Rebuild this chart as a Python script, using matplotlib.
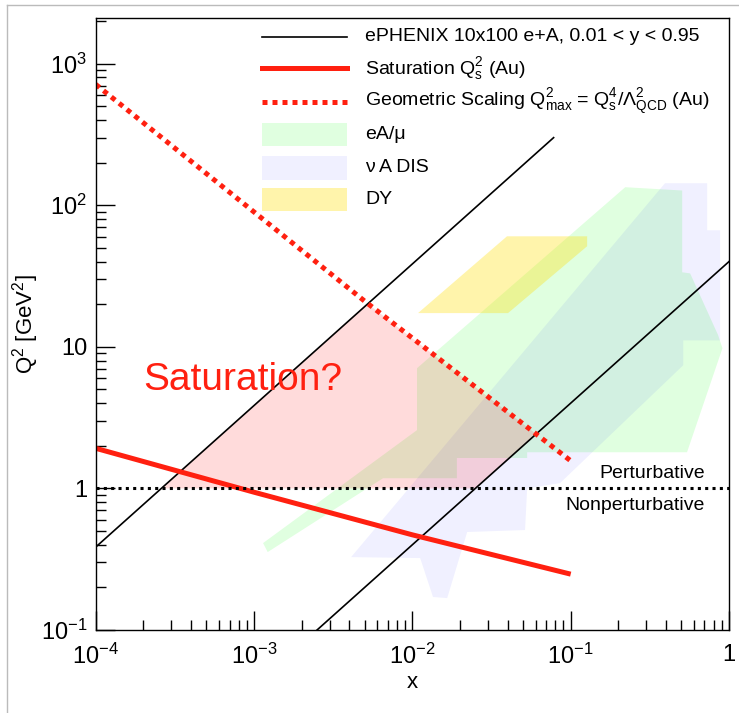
import numpy as np
import matplotlib
matplotlib.use('Agg')
import matplotlib.pyplot as plt
from matplotlib.patches import Polygon, Rectangle
from matplotlib.lines import Line2D

plt.rcParams['font.family'] = ['Liberation Sans', 'DejaVu Sans']
plt.rcParams['mathtext.fontset'] = 'custom'
plt.rcParams['mathtext.rm'] = 'Liberation Sans'
plt.rcParams['mathtext.it'] = 'Liberation Sans:italic'
plt.rcParams['mathtext.bf'] = 'Liberation Sans:bold'

# ePHENIX 10x100 kinematic limits, y = 0.95 and y = 0.01
ephenix_hi_x = [1e-4, 0.078]
ephenix_hi_q2 = [0.385, 300]
ephenix_lo_x = [0.0025, 1.0]
ephenix_lo_q2 = [0.1, 40]

# saturation scale Qs^2 (Au)
sat_x = [1e-4, 1e-3, 1e-2, 1e-1]
sat_q2 = [1.92, 0.94, 0.47, 0.248]

# geometric scaling Q2max (Au)
geo_x = [1e-4, 5e-3, 0.099]
geo_q2 = [713, 21, 1.58]

# saturation region (pink)
satreg_x = [2.6e-4, 5.2e-3, 0.0605, 0.025]
satreg_q2 = [1.0, 20.2, 2.42, 1.0]

# eA / mu data coverage
ea_x = [1.14e-3, 0.0107, 0.0107, 0.221, 0.506, 0.506, 0.568, 0.853, 0.909,
        0.543, 0.0531, 0.0531, 0.0191, 0.0191, 6.53e-3, 1.22e-3]
ea_q2 = [0.411, 2.58, 7.06, 134, 127, 33.6, 33.0, 12.1, 9.77,
         1.80, 1.80, 1.64, 1.64, 1.18, 1.18, 0.355]

# nu A DIS coverage
nu_x = [0.394, 0.728, 0.728, 0.879, 0.879, 0.514, 0.514, 0.0857, 0.0531,
        0.0515, 0.0222, 0.0166, 0.0135, 0.0112, 4.10e-3]
nu_q2 = [143, 143, 66.5, 66.5, 11.1, 11.1, 7.41, 1.09, 1.0,
         0.508, 0.492, 0.168, 0.171, 0.322, 0.327]

# Drell-Yan coverage
dy_x = [0.01086, 0.0396, 0.127, 0.127, 0.0402]
dy_q2 = [17.3, 60.3, 60.3, 51.3, 17.3]

xticks = [1e-4, 1e-3, 1e-2, 1e-1, 1]
xticklabels = [r'$\mathregular{10^{-4}}$', r'$\mathregular{10^{-3}}$',
               r'$\mathregular{10^{-2}}$', r'$\mathregular{10^{-1}}$', '1']
yticks = [1e-1, 1, 10, 1e2, 1e3]
yticklabels = [r'$\mathregular{10^{-1}}$', '1', '10',
               r'$\mathregular{10^{2}}$', r'$\mathregular{10^{3}}$']

red = '#ff2010'
c_ea = (0, 1, 0, 0.12)
c_nu = (0, 0, 1, 0.06)
c_dy = (1, 0.87, 0, 0.33)
c_sat = (1, 0, 0, 0.14)

fig = plt.figure(figsize=(7.39, 7.13), dpi=100)
ax = fig.add_axes([0.1295, 0.1164, 0.8570, 0.8584])
ax.set_xscale('log')
ax.set_yscale('log')
ax.set_xlim(1e-4, 1)
ax.set_ylim(0.1, 2100)

ax.add_patch(Polygon(np.column_stack([ea_x, ea_q2]), closed=True, fc=c_ea, ec='none'))
ax.add_patch(Polygon(np.column_stack([nu_x, nu_q2]), closed=True, fc=c_nu, ec='none'))
ax.add_patch(Polygon(np.column_stack([dy_x, dy_q2]), closed=True, fc=c_dy, ec='none'))
ax.add_patch(Polygon(np.column_stack([satreg_x, satreg_q2]), closed=True, fc=c_sat, ec='none'))

ax.plot(ephenix_hi_x, ephenix_hi_q2, color='black', lw=1.2)
ax.plot(ephenix_lo_x, ephenix_lo_q2, color='black', lw=1.2)
ax.plot(sat_x, sat_q2, color=red, lw=3.6, solid_capstyle='butt')
ax.plot(geo_x, geo_q2, color=red, lw=3.6, linestyle=(0, (1, 1)))
ax.axhline(1.0, color='black', lw=2.2, linestyle=(0, (1, 1.4)))

ax.text(2.0e-4, 4.94, 'Saturation?', color=red, fontsize=28, ha='left', va='baseline')
ax.text(0.706, 1.18, 'Perturbative', fontsize=14, ha='right', va='baseline')
ax.text(0.706, 0.703, 'Nonperturbative', fontsize=14, ha='right', va='baseline')

ax.set_xticks(xticks)
ax.set_xticklabels(xticklabels)
ax.set_yticks(yticks)
ax.set_yticklabels(yticklabels)
ax.tick_params(which='both', direction='in', top=False, right=False, labelsize=17)
ax.tick_params(which='major', length=14, width=1)
ax.tick_params(which='minor', length=7, width=1)
ax.tick_params(axis='x', pad=10)
ax.tick_params(axis='y', pad=6)
for s in ax.spines.values():
    s.set_linewidth(1)

ax.set_xlabel('x', fontsize=16, labelpad=2)
ax.set_ylabel(r'Q$^{2}$ [GeV$^{2}$]', fontsize=16)
ax.yaxis.set_label_coords(-0.086, 0.5)

# legend
hx0, hx1, tx = 0.2626, 0.3969, 0.4252
rows = [0.969, 0.918, 0.863, 0.809, 0.755, 0.703]
labels = ['ePHENIX 10x100 e+A, 0.01 < y < 0.95',
          r'Saturation Q$_{\mathrm{s}}^{2}$ (Au)',
          r'Geometric Scaling Q$^{2}_{\mathrm{max}}$ = Q$^{4}_{\mathrm{s}}$/$\Lambda^{2}_{\mathrm{QCD}}$ (Au)',
          'eA/μ', 'ν A DIS', 'DY']
ax.add_line(Line2D([hx0, hx1], [rows[0]] * 2, color='black', lw=1.2, transform=ax.transAxes))
ax.add_line(Line2D([hx0, hx1], [rows[1]] * 2, color=red, lw=3.6, transform=ax.transAxes))
ax.add_line(Line2D([hx0, hx1], [rows[2]] * 2, color=red, lw=3.6, linestyle=(0, (1, 1)),
                   transform=ax.transAxes))
for r, c in zip(rows[3:], [c_ea, c_nu, c_dy]):
    ax.add_patch(Rectangle((hx0, r - 0.019), hx1 - hx0, 0.038, fc=c, ec='none',
                           transform=ax.transAxes))
for r, lab in zip(rows, labels):
    ax.text(tx, r, lab, fontsize=14, ha='left', va='center', transform=ax.transAxes)

# canvas border
fig.add_artist(Line2D([7 / 739, 7 / 739], [0, 1 - 5 / 713], color='#bbbbbb', lw=1))
fig.add_artist(Line2D([7 / 739, 1], [1 - 5 / 713] * 2, color='#bbbbbb', lw=1))

fig.savefig('out.png', dpi=100)
